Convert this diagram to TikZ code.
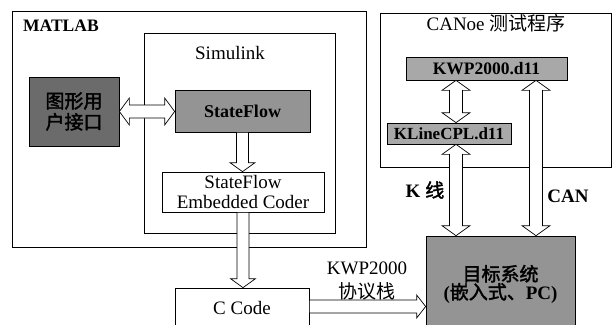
\documentclass[tikz,border=0pt]{standalone}
\usepackage{fontspec}
\setmainfont{Liberation Serif}
\newfontfamily\cjk[AutoFakeBold=2]{Noto Sans CJK SC}
\usetikzlibrary{calc}
\definecolor{gdark}{gray}{0.42}
\definecolor{gmid}{gray}{0.58}
\definecolor{glight}{gray}{0.66}
\tikzset{
 box/.style={draw, line width=0.7pt, inner sep=0pt},
 blk/.style={draw, line width=0.7pt, fill=white, line join=miter},
 lbl/.style={inner sep=0pt, font=\fontsize{19}{21}\selectfont},
 blbl/.style={inner sep=0pt, font=\fontsize{18}{20}\selectfont\bfseries},
}
\newcommand\blkdown[2]{%
 \draw[blk] let \p1=(#1), \p2=(#2) in
 (\x1-6pt,\y1) -- (\x1+6pt,\y1) -- (\x1+6pt,\y2+9pt) -- (\x1+12.5pt,\y2+9pt) -- (\x1,\y2)
 -- (\x1-12.5pt,\y2+9pt) -- (\x1-6pt,\y2+9pt) -- cycle;}
\newcommand\blkvdouble[2]{%
 \draw[blk] let \p1=(#1), \p2=(#2) in
 (\x1,\y1) -- (\x1+14pt,\y1-10pt) -- (\x1+6.5pt,\y1-10pt) -- (\x1+6.5pt,\y2+10pt) -- (\x1+14pt,\y2+10pt)
 -- (\x1,\y2) -- (\x1-14pt,\y2+10pt) -- (\x1-6.5pt,\y2+10pt) -- (\x1-6.5pt,\y1-10pt) -- (\x1-14pt,\y1-10pt) -- cycle;}
\newcommand\blkhdouble[2]{%
 \draw[blk] let \p1=(#1), \p2=(#2) in
 (\x1,\y1) -- (\x1+10pt,\y1+13.5pt) -- (\x1+10pt,\y1+6.5pt) -- (\x2-10pt,\y1+6.5pt) -- (\x2-10pt,\y1+13.5pt)
 -- (\x2,\y1) -- (\x2-10pt,\y1-13.5pt) -- (\x2-10pt,\y1-6.5pt) -- (\x1+10pt,\y1-6.5pt) -- (\x1+10pt,\y1-13.5pt) -- cycle;}
\newcommand\blkright[2]{%
 \draw[blk] let \p1=(#1), \p2=(#2) in
 (\x1,\y1+6.5pt) -- (\x2-9pt,\y1+6.5pt) -- (\x2-9pt,\y1+11.5pt) -- (\x2,\y1) -- (\x2-9pt,\y1-11.5pt)
 -- (\x2-9pt,\y1-6.5pt) -- (\x1,\y1-6.5pt) -- cycle;}
\begin{document}
\begin{tikzpicture}[x=1pt,y=-1pt]
\useasboundingbox (0,0) rectangle (612,324);
\clip (0,0) rectangle (612,324);
% containers
\node[box, minimum width=354pt, minimum height=236pt] (matlab) at (189,129) {};
\node[box, minimum width=191pt, minimum height=200pt] (simulink) at (239.5,133) {};
\node[box, minimum width=231pt, minimum height=154pt] (canoe) at (495.5,90) {};
% blocks
\node[box, fill=gdark, minimum width=90pt, minimum height=69pt, align=center,
      font=\fontsize{19}{21}\selectfont\cjk\bfseries] (gui) at (74,111.5) {图形用\\户接口};
\node[box, fill=gmid, minimum width=135pt, minimum height=42pt, font=\fontsize{18}{20}\selectfont\bfseries] (stateflow) at (242.5,111) {StateFlow};
\node[box, fill=white, minimum width=162pt, minimum height=40pt, align=center,
      font=\fontsize{19}{19.5}\selectfont] (emb) at (243,192) {StateFlow\\Embedded Coder};
\node[box, fill=white, minimum width=134pt, minimum height=40pt, font=\fontsize{19}{21}\selectfont] (ccode) at (242,308) {C Code};
\node[box, fill=glight, minimum width=161pt, minimum height=23pt, font=\fontsize{17.5}{20}\selectfont\bfseries] (kwp) at (486.5,68.5) {KWP2000.d11};
\node[box, fill=glight, minimum width=124pt, minimum height=21pt, font=\fontsize{17}{20}\selectfont\bfseries] (kline) at (449,133.5) {KLineCPL.d11};
\node[box, fill=gmid, minimum width=149pt, minimum height=96pt, align=center,
      font=\fontsize{19}{18}\selectfont\bfseries] (target) at (500.5,284) {{\cjk 目标系统}\\({\cjk 嵌入式、}PC)};
% labels
\node[blbl, anchor=west, font=\fontsize{17.5}{20}\selectfont\bfseries] (lmatlab) at (23,26) {MATLAB};
\node[lbl] (lsim) at (230,53) {Simulink};
\node[lbl] (lcanoe) at (496,23) {CANoe {\cjk 测试程序}};
\node[lbl, font=\fontsize{19}{21}\selectfont\bfseries] (lk) at (425,190) {K {\cjk 线}};
\node[lbl, font=\fontsize{19}{21}\selectfont\bfseries] (lcan) at (568,196) {CAN};
\node[lbl] (lkwp) at (367,268) {KWP2000};
\node[lbl] (lproto) at (367,291) {\cjk 协议栈};
% arrows
\coordinate (kx) at (456,0);
\coordinate (cx) at (536,0);
\coordinate (cy) at (0,306.5);
\blkhdouble{gui.east}{stateflow.west |- gui.east}
\blkdown{stateflow.south}{emb.north -| stateflow.south}
\blkdown{emb.south}{ccode.north -| emb.south}
\blkvdouble{kwp.south -| kx}{kline.north -| kx}
\blkvdouble{kline.south -| kx}{target.north -| kx}
\blkvdouble{kwp.south -| cx}{target.north -| cx}
\blkright{ccode.east |- cy}{target.west |- cy}
\end{tikzpicture}
\end{document}
